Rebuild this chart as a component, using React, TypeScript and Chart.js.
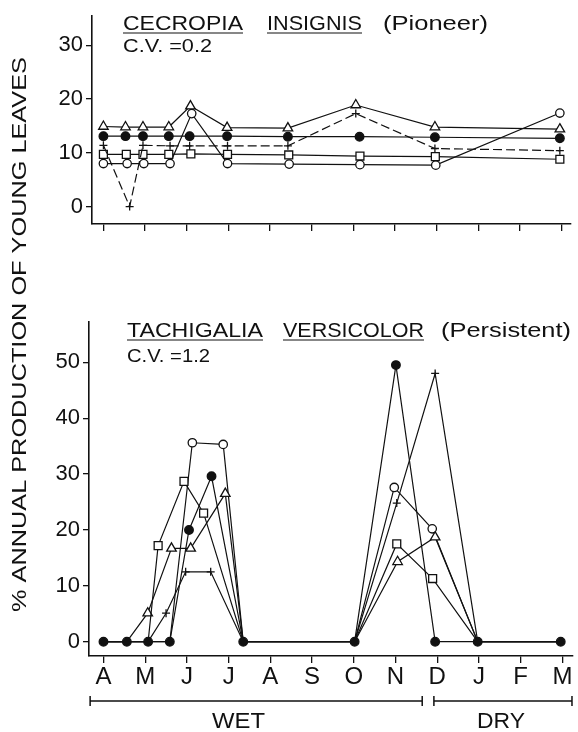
import React, { useEffect, useRef } from 'react';
import { Chart, registerables } from 'chart.js';

Chart.register(...registerables);

const W = 578;
const H = 732;
const FONT = '"Liberation Sans", Arial, sans-serif';

// ---------- data ----------
const monthLabels = ['A', 'M', 'J', 'J', 'A', 'S', 'O', 'N', 'D', 'J', 'F', 'M'];
const topYTicks = [0, 10, 20, 30];
const bottomYTicks = [0, 10, 20, 30, 40, 50];

// Cecropia insignis (month index, 0 = April)
const topTriangleX = [0, 0.53, 0.95, 1.57, 2.09, 2.97, 4.43, 6.06, 7.96, 10.96];
const topTriangle = [14.9, 14.8, 14.8, 14.8, 18.7, 14.7, 14.6, 18.9, 14.8, 14.4];
const topFilledX = [0, 0.53, 0.95, 1.57, 2.07, 2.97, 4.43, 6.15, 7.96, 10.96];
const topFilled = [13.1, 13.1, 13.1, 13.1, 13.1, 13.1, 13.0, 13.0, 12.9, 12.7];
const topPlusX = [0, 0.63, 0.95, 1.6, 2.07, 2.98, 4.43, 6.06, 7.96, 10.96];
const topPlus = [11.4, 0, 11.4, 11.3, 11.3, 11.3, 11.3, 17.3, 10.8, 10.4];
const topSquareX = [0, 0.55, 0.95, 1.57, 2.1, 2.98, 4.45, 6.16, 7.97, 10.96];
const topSquare = [9.7, 9.7, 9.7, 9.7, 9.8, 9.7, 9.6, 9.4, 9.3, 8.8];
const topCircleX = [0, 0.57, 0.97, 1.6, 2.12, 2.98, 4.46, 6.16, 7.98, 10.96];
const topCircle = [8.0, 8.0, 8.0, 8.0, 17.3, 8.0, 7.9, 7.8, 7.7, 17.4];

// Tachigalia versicolor
const botFilledX = [0, 0.56, 1.07, 1.59, 2.05, 2.59, 3.35, 6.02, 7.01, 7.95, 8.97, 10.96];
const botFilled = [0, 0, 0, 0, 20.0, 29.6, 0, 0, 49.5, 0, 0, 0];
const botSquareX = [0, 1.07, 1.31, 1.93, 2.4, 3.35, 6.02, 7.03, 7.89, 8.97, 10.96];
const botSquare = [0, 0, 17.2, 28.7, 23.0, 0, 0, 17.5, 11.3, 0, 0];
const botTriangleX = [0, 0.56, 1.06, 1.63, 2.09, 2.92, 3.35, 6.02, 7.05, 7.95, 8.97, 10.96];
const botTriangle = [0, 0, 5.1, 16.7, 16.7, 26.5, 0, 0, 14.3, 18.7, 0, 0];
const botPlusX = [0, 1.07, 1.5, 1.97, 2.57, 3.35, 6.02, 7.03, 7.95, 8.97, 10.96];
const botPlus = [0, 0, 5.1, 12.5, 12.5, 0, 0, 24.8, 48.0, 0, 0];
const botCircleX = [0, 1.59, 2.13, 2.87, 3.35, 6.02, 6.97, 7.88, 8.97, 10.96];
const botCircle = [0, 0, 35.6, 35.3, 0, 0, 27.6, 20.2, 0, 0];

// ---------- helpers ----------
const pts = (xs: number[], ys: number[]) => xs.map((x, i) => ({ x, y: ys[i] }));

function series(xs: number[], ys: number[], style: string, filled: boolean, radius: number, hideZero: boolean, extra: any = {}) {
  return {
    data: pts(xs, ys),
    borderColor: '#111',
    borderWidth: 1.2,
    tension: 0,
    fill: false,
    pointStyle: style,
    pointRadius: hideZero ? (c: any) => (c.raw && c.raw.y === 0 ? 0 : radius) : radius,
    pointBackgroundColor: filled ? '#111' : '#fff',
    pointBorderColor: '#111',
    pointBorderWidth: 1.3,
    ...extra,
  };
}

function axisX(min: number, max: number, showLabels: boolean, height: number) {
  return {
    type: 'linear',
    min,
    max,
    afterBuildTicks: (s: any) => {
      s.ticks = monthLabels.map((_, i) => ({ value: i }));
    },
    afterFit: (s: any) => {
      s.height = height;
    },
    ticks: {
      display: showLabels,
      autoSkip: false,
      maxRotation: 0,
      padding: 0,
      color: '#111',
      font: { family: FONT, size: 24 },
      callback: (v: any) => monthLabels[v] ?? '',
    },
    grid: { drawOnChartArea: false, drawTicks: true, tickLength: 7, color: '#111', lineWidth: 1.3 },
    border: { display: true, color: '#111', width: 1.6 },
  };
}

function axisY(min: number, max: number, tickVals: number[], width: number) {
  return {
    type: 'linear',
    min,
    max,
    afterBuildTicks: (s: any) => {
      s.ticks = tickVals.map((v) => ({ value: v }));
    },
    afterFit: (s: any) => {
      s.width = width;
    },
    ticks: {
      padding: 3,
      color: '#111',
      font: { family: FONT, size: 22 },
      callback: (v: any) => String(v),
    },
    grid: { drawOnChartArea: false, drawTicks: true, tickLength: 6, color: '#111', lineWidth: 1.3 },
    border: { display: true, color: '#111', width: 1.6 },
  };
}

function drawFit(ctx: CanvasRenderingContext2D, text: string, x: number, y: number, w: number, size: number, underline = false) {
  ctx.save();
  ctx.font = `${size}px ${FONT}`;
  ctx.fillStyle = '#111';
  ctx.textAlign = 'left';
  ctx.textBaseline = 'alphabetic';
  const m = ctx.measureText(text).width;
  ctx.translate(x, y);
  ctx.scale(w / m, 1);
  ctx.fillText(text, 0, 0);
  ctx.restore();
  if (underline) {
    ctx.save();
    ctx.strokeStyle = '#111';
    ctx.lineWidth = 1.2;
    ctx.beginPath();
    ctx.moveTo(x, y + 3);
    ctx.lineTo(x + w, y + 3);
    ctx.stroke();
    ctx.restore();
  }
}

const topTextPlugin = {
  id: 'topText',
  afterDraw(chart: any) {
    const ctx = chart.ctx as CanvasRenderingContext2D;
    drawFit(ctx, 'CECROPIA', 123, 30, 120, 21, true);
    drawFit(ctx, 'INSIGNIS', 267, 30, 95, 21, true);
    drawFit(ctx, '(Pioneer)', 383, 30, 105, 21);
    drawFit(ctx, 'C.V. =0.2', 123, 52, 89, 19);
    // y axis title
    ctx.save();
    ctx.translate(26, 334.5);
    ctx.rotate(-Math.PI / 2);
    ctx.font = `21px ${FONT}`;
    const label = '% ANNUAL PRODUCTION OF YOUNG LEAVES';
    const m = ctx.measureText(label).width;
    ctx.scale(555 / m, 1);
    ctx.fillStyle = '#111';
    ctx.textAlign = 'center';
    ctx.textBaseline = 'alphabetic';
    ctx.fillText(label, 0, 0);
    ctx.restore();
  },
};

const bottomTextPlugin = {
  id: 'bottomText',
  afterDraw(chart: any) {
    const ctx = chart.ctx as CanvasRenderingContext2D;
    drawFit(ctx, 'TACHIGALIA', 127, 337, 136, 21, true);
    drawFit(ctx, 'VERSICOLOR', 283, 337, 141, 21, true);
    drawFit(ctx, '(Persistent)', 441, 337, 130, 21);
    drawFit(ctx, 'C.V. =1.2', 127, 362, 83, 19);

    const xs = chart.scales.x;
    const yLine = 701;
    const seg = (a: number, b: number) => {
      const x1 = xs.getPixelForValue(a);
      const x2 = xs.getPixelForValue(b);
      ctx.save();
      ctx.strokeStyle = '#111';
      ctx.lineWidth = 1.5;
      ctx.beginPath();
      ctx.moveTo(x1, yLine);
      ctx.lineTo(x2, yLine);
      ctx.moveTo(x1, yLine - 5);
      ctx.lineTo(x1, yLine + 5);
      ctx.moveTo(x2, yLine - 5);
      ctx.lineTo(x2, yLine + 5);
      ctx.stroke();
      ctx.restore();
    };
    seg(-0.32, 7.64);
    seg(7.92, 11.23);
    drawFit(ctx, 'WET', 212, 728, 53, 22);
    drawFit(ctx, 'DRY', 477, 728, 48, 22);
  },
};

function topConfig(): any {
  return {
    type: 'line',
    data: {
      datasets: [
        series(topFilledX, topFilled, 'circle', true, 4.3, false),
        series(topTriangleX, topTriangle, 'triangle', false, 5.5, false),
        series(topPlusX, topPlus, 'cross', false, 4, false, { borderDash: [9, 4] }),
        series(topSquareX, topSquare, 'rect', false, 5.6, false),
        series(topCircleX, topCircle, 'circle', false, 4.2, false),
      ],
    },
    options: {
      animation: false,
      responsive: false,
      devicePixelRatio: 1,
      layout: { padding: { left: 0, top: 10, right: 4, bottom: H - 224 - 10 } },
      plugins: { legend: { display: false }, tooltip: { enabled: false } },
      scales: {
        x: axisX(-0.274, 11.23, false, 10),
        y: axisY(-3.25, 35.43, topYTicks, 92),
      },
    },
    plugins: [topTextPlugin],
  };
}

function bottomConfig(): any {
  return {
    type: 'line',
    data: {
      datasets: [
        series(botFilledX, botFilled, 'circle', true, 4.3, false),
        series(botSquareX, botSquare, 'rect', false, 5.6, true),
        series(botTriangleX, botTriangle, 'triangle', false, 5.5, true),
        series(botPlusX, botPlus, 'cross', false, 4, true),
        series(botCircleX, botCircle, 'circle', false, 4.2, true),
      ],
    },
    options: {
      animation: false,
      responsive: false,
      devicePixelRatio: 1,
      layout: { padding: { left: 0, top: 322, right: 5, bottom: H - 656 - 40 } },
      plugins: { legend: { display: false }, tooltip: { enabled: false } },
      scales: {
        x: axisX(-0.347, 11.24, true, 40),
        y: axisY(-2.56, 57.21, bottomYTicks, 89),
      },
    },
    plugins: [bottomTextPlugin],
  };
}

export default function App() {
  const topRef = useRef<HTMLCanvasElement>(null);
  const botRef = useRef<HTMLCanvasElement>(null);
  useEffect(() => {
    const a = new Chart(topRef.current as HTMLCanvasElement, topConfig());
    const b = new Chart(botRef.current as HTMLCanvasElement, bottomConfig());
    return () => {
      a.destroy();
      b.destroy();
    };
  }, []);
  const cs: React.CSSProperties = { position: 'absolute', left: 0, top: 0, width: W, height: H };
  return (
    <div style={{ position: 'absolute', left: 0, top: 0, width: W, height: H, background: '#fff' }}>
      <canvas ref={topRef} width={W} height={H} style={cs} />
      <canvas ref={botRef} width={W} height={H} style={cs} />
    </div>
  );
}
